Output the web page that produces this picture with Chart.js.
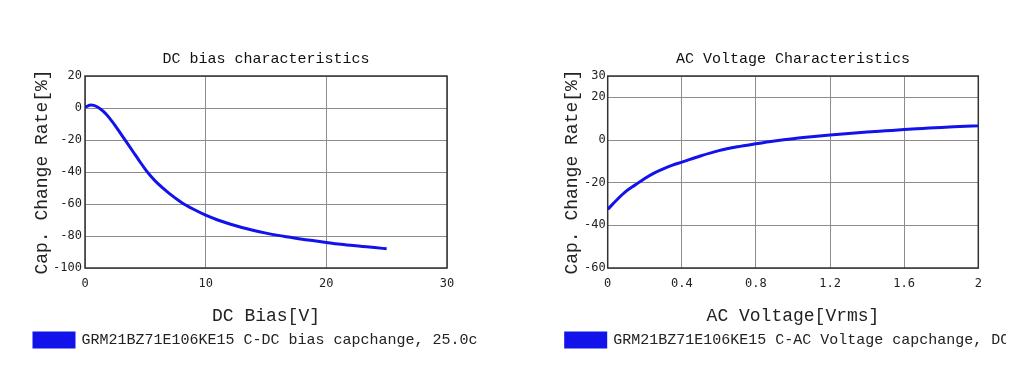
<!DOCTYPE html>
<html>
<head>
<meta charset="utf-8">
<script src="https://cdn.jsdelivr.net/npm/chart.js@4/dist/chart.umd.min.js"></script>
<style>
  html, body { margin: 0; padding: 0; background: #fff; }
  body { width: 1028px; height: 388px; position: relative; overflow: hidden; }
  #c1 { position: absolute; left: 0; top: 0; }
  #c2 { position: absolute; left: 514px; top: 0; }
</style>
</head>
<body>
<canvas id="c1" width="477" height="388"></canvas>
<canvas id="c2" width="492" height="388"></canvas>
<script>
// ---- Data: DC bias characteristics ----
const dcBiasV = [0, 0.5, 1.0, 1.5, 2.0, 2.5, 3.0, 3.5, 4.0, 4.5, 5.0, 5.5, 6.0, 7.0, 8.0, 9.0, 10, 11, 12, 13, 14, 15, 16, 17, 18, 19, 20, 21, 22, 23, 24, 25];
const dcCapChange = [0.5, 1.8, 0.8, -2, -6, -11, -16.5, -22, -27.5, -33, -38.3, -43, -47, -53.5, -59, -63.3, -67, -70, -72.5, -74.7, -76.6, -78.2, -79.6, -80.8, -82, -83, -84, -85, -85.8, -86.5, -87.2, -88];
const dcXTicks = [0, 10, 20, 30];
const dcYTicks = [-100, -80, -60, -40, -20, 0, 20];
const dcLegend = "GRM21BZ71E106KE15 C-DC bias capchange, 25.0c";

// ---- Data: AC voltage characteristics ----
const acVoltage = [0, 0.05, 0.1, 0.15, 0.2, 0.25, 0.3, 0.35, 0.4, 0.5, 0.6, 0.7, 0.8, 0.9, 1.0, 1.1, 1.2, 1.3, 1.4, 1.5, 1.6, 1.7, 1.8, 1.9, 2.0];
const acCapChange = [-32.5, -28, -24, -21, -18, -15.5, -13.5, -11.8, -10.4, -7.5, -5, -3.2, -1.8, -0.5, 0.6, 1.5, 2.3, 3.0, 3.7, 4.3, 4.9, 5.4, 5.9, 6.3, 6.7];
const acXTicks = [0, 0.4, 0.8, 1.2, 1.6, 2];
const acYTicks = [-60, -40, -20, 0, 20, 30];
const acLegend = "GRM21BZ71E106KE15 C-AC Voltage capchange, DC0V";

const monoSerif = "'Liberation Mono', 'Courier New', monospace";
const monoSans = "'DejaVu Sans Mono', monospace";
const lineColor = 'rgb(18,18,235)';

const frame = {
  id: 'frame',
  beforeDatasetsDraw(chart) {
    const a = chart.chartArea, ctx = chart.ctx;
    ctx.save();
    ctx.strokeStyle = '#333';
    ctx.lineWidth = 1.5;
    ctx.strokeRect(a.left, a.top, a.right - a.left, a.bottom - a.top);
    ctx.restore();
  }
};

function makeChart(el, cfg) {
  return new Chart(el, {
    type: 'line',
    data: {
      datasets: [{
        label: cfg.legend,
        data: cfg.x.map((v, i) => ({ x: v, y: cfg.y[i] })),
        borderColor: lineColor,
        backgroundColor: lineColor,
        borderWidth: 3,
        pointRadius: 0,
        cubicInterpolationMode: 'monotone',
        fill: false
      }]
    },
    options: {
      responsive: false,
      animation: false,
      devicePixelRatio: 1,
      layout: { padding: cfg.padding },
      plugins: {
        title: {
          display: true, text: cfg.title, fullSize: false,
          color: '#111', font: { family: monoSerif, size: 15, weight: 'normal' },
          padding: { top: 50, bottom: 8 }
        },
        legend: {
          display: true, position: 'bottom', align: 'start',
          labels: {
            color: '#222', font: { family: monoSerif, size: 15 },
            boxWidth: 40, boxHeight: 14, padding: 4
          }
        },
        tooltip: { enabled: false }
      },
      scales: {
        x: {
          type: 'linear', min: cfg.xTicks[0], max: cfg.xTicks[cfg.xTicks.length - 1],
          afterBuildTicks: s => { s.ticks = cfg.xTicks.map(v => ({ value: v })); },
          afterFit: s => { s.height = 60.5; },
          ticks: { color: '#222', font: { family: monoSans, size: 12 }, padding: 9, maxRotation: 0,
                   callback: v => String(+v.toFixed(2)) },
          grid: { color: '#8c8c8c', lineWidth: 1, drawTicks: false },
          border: { display: false },
          title: { display: true, text: cfg.xTitle, color: '#222',
                   font: { family: monoSerif, size: 18 }, padding: { top: 15, bottom: 1.5 } }
        },
        y: {
          type: 'linear', min: cfg.yTicks[0], max: cfg.yTicks[cfg.yTicks.length - 1],
          afterBuildTicks: s => { s.ticks = cfg.yTicks.map(v => ({ value: v })); },
          afterFit: s => { s.width = cfg.yWidth; },
          ticks: { color: '#222', font: { family: monoSans, size: 12 }, padding: cfg.yTickPad },
          grid: { color: '#8c8c8c', lineWidth: 1, drawTicks: false },
          border: { display: false },
          title: { display: true, text: 'Cap. Change Rate[%]', color: '#222',
                   font: { family: monoSerif, size: 18 }, padding: { top: cfg.yTitlePad, bottom: 0 } }
        },
        ySpacer: {
          type: 'linear', position: 'right', display: true,
          afterFit: s => { s.width = cfg.rightGap; },
          ticks: { display: false },
          grid: { display: false, drawTicks: false },
          border: { display: false },
          title: { display: false }
        }
      }
    },
    plugins: [frame]
  });
}

makeChart(document.getElementById('c1'), {
  x: dcBiasV, y: dcCapChange, xTicks: dcXTicks, yTicks: dcYTicks,
  title: 'DC bias characteristics', xTitle: 'DC Bias[V]', legend: dcLegend,
  padding: { left: 30, right: 0, top: 0, bottom: 30.5 }, rightGap: 30,
  yWidth: 55, yTickPad: 3, yTitlePad: 1
});

makeChart(document.getElementById('c2'), {
  x: acVoltage, y: acCapChange, xTicks: acXTicks, yTicks: acYTicks,
  title: 'AC Voltage Characteristics', xTitle: 'AC Voltage[Vrms]', legend: acLegend,
  padding: { left: 47.7, right: 0, top: 0, bottom: 30.5 }, rightGap: 27.7,
  yWidth: 46, yTickPad: 2, yTitlePad: 0
});
</script>
</body>
</html>
